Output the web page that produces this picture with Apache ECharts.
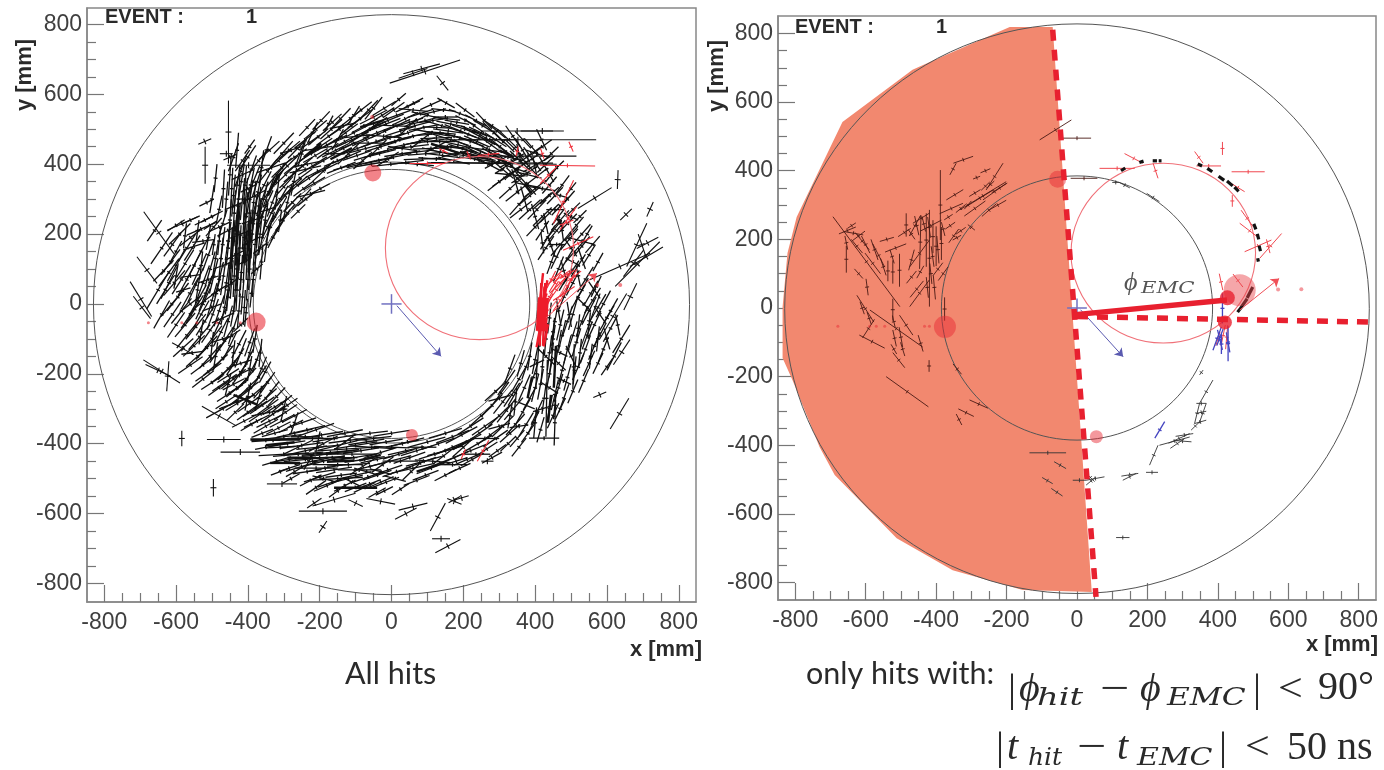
<!DOCTYPE html>
<html><head><meta charset="utf-8">
<style>html,body{margin:0;padding:0;background:#fff}#c{width:1384px;height:770px;filter:blur(0.65px)}</style>
<script src="https://cdn.jsdelivr.net/npm/echarts@6/dist/echarts.min.js"></script>
</head><body><div id="c"></div>
<script>
const majorTicks=[-800,-600,-400,-200,0,200,400,600,800];
const minorTicks=[-750,-700,-650,-550,-500,-450,-350,-300,-250,-150,-100,-50,50,100,150,250,300,350,450,500,550,650,700,750];
// Hits: [centre x, centre y, half dx, half dy] in mm
const hitsTop=[[-240,470,30,24],[-225,430,32,22],[-210,500,30,26],[-200,450,35,24],[-190,410,30,18],[-175,480,34,26],[-165,520,26,24],[-155,440,38,20],[-145,500,32,22],[-130,465,36,20],[-125,420,40,18],[-115,530,34,28],[-105,490,38,20],[-95,445,42,16],[-85,555,30,24],[-75,510,36,20],[-70,470,40,18],[-60,425,45,14],[-50,535,38,20],[-40,490,40,16],[-30,450,44,14],[-20,560,32,20],[-15,515,40,16],[-5,475,42,14],[5,420,50,10],[15,540,38,14],[25,495,42,14],[35,455,46,10],[45,565,34,16],[50,520,38,12],[60,480,44,10],[70,435,48,6],[80,545,36,12],[90,505,42,8],[100,465,46,6],[110,570,30,14],[115,525,40,6],[125,415,50,-4],[135,490,44,-4],[145,555,34,-4],[155,450,44,-6],[165,515,40,-8],[175,480,38,-10],[190,545,30,-12],[200,430,40,-10],[205,500,36,-12],[220,465,38,-14],[235,525,30,-16],[245,410,36,-14],[250,490,34,-16],[265,445,36,-18],[280,510,26,-18],[290,470,30,-20],[305,415,34,-22],[-270,420,34,24],[-220,395,40,26],[-180,455,44,26],[-140,390,40,16],[-110,470,46,22],[-85,400,40,10],[-60,500,44,22],[-35,410,40,8],[-10,525,44,18],[10,465,46,12],[40,405,50,6],[65,510,44,12],[95,430,50,4],[125,475,44,2],[155,530,36,-4],[185,455,44,-10],[230,495,36,-14],[275,425,40,-20]];
const extraTop=[[-300,460,28,30],[-290,395,30,30],[-262,445,26,28],[-248,395,28,24],[-235,505,22,24],[-228,462,30,22],[-212,425,34,20],[-204,478,28,24],[-196,525,24,26],[-186,385,36,18],[-178,438,30,22],[-168,500,30,28],[-158,465,34,18],[-150,410,38,16],[-142,530,28,30],[-134,445,36,18],[-128,490,34,26],[-120,395,42,12],[-112,510,30,24],[-104,460,42,18],[-96,425,40,14],[-88,530,34,26],[-80,485,38,24],[-72,445,44,12],[-64,555,26,28],[-56,400,46,8],[-48,510,36,24],[-42,465,42,16],[-34,430,46,12],[-26,540,34,22],[-18,495,40,20],[-10,440,48,12],[-2,400,52,6],[6,555,30,22],[14,510,38,18],[22,470,42,12],[30,430,50,8],[38,530,36,18],[46,490,40,14],[54,450,50,6],[62,575,26,14],[70,525,34,18],[78,465,44,10],[86,415,52,2],[94,525,38,10],[102,485,44,4],[110,445,50,2],[118,550,34,8],[126,505,40,-2],[134,465,44,0],[142,425,48,-6],[150,535,34,0],[158,495,42,-6],[166,450,44,-4],[174,410,44,-10],[182,520,34,-6],[190,475,40,-10],[198,445,40,-12],[206,525,28,-14],[214,485,36,-14],[222,435,38,-14],[230,510,28,-20],[238,465,36,-16],[246,430,38,-18],[254,510,26,-16],[262,475,32,-20],[270,400,36,-20],[278,455,30,-22],[286,425,34,-22],[294,495,24,-20],[302,450,30,-24],[310,385,30,-26],[318,435,30,-24],[326,470,24,-24],[334,395,32,-28],[342,445,26,-26],[350,360,30,-30],[358,410,28,-28],[366,470,22,-24],[374,345,28,-32],[382,395,26,-30],[390,450,20,-24]];
const hitsUpperLeft=[[-440,420,14,40],[-420,380,16,45],[-400,420,22,34],[-385,350,18,45],[-370,410,26,34],[-360,300,16,48],[-345,380,26,34],[-340,440,28,26],[-330,340,24,38],[-315,410,30,28],[-310,300,22,38],[-295,370,30,30],[-285,440,30,26],[-280,330,30,30],[-265,400,32,26],[-255,360,34,26],[-250,300,26,30],[-430,340,8,55],[-415,300,6,60],[-405,250,5,70],[-395,300,10,55],[-380,260,8,60],[-370,230,6,70],[-360,250,14,50],[-350,280,20,45],[-335,260,18,40],[-450,370,4,60],[-440,310,5,60],[-460,300,4,50],[-425,230,4,60],[-410,190,3,70],[-395,210,4,60],[-380,170,5,60],[-360,190,10,50],[-345,220,16,34],[-408,340,4,55],[-390,385,14,40],[-372,320,10,50],[-428,280,4,50],[-400,180,4,60],[-385,230,6,50],[-355,340,20,40],[-320,370,26,32],[-300,335,26,30],[-415,410,20,30]];
const extraUpperLeft=[[-445,330,3,60],[-438,260,4,65],[-432,200,3,70],[-426,300,4,70],[-422,160,3,65],[-418,350,8,50],[-412,230,3,75],[-406,300,5,60],[-402,140,3,70],[-396,260,4,65],[-392,340,10,50],[-388,200,3,70],[-384,290,6,60],[-378,140,3,60],[-374,350,14,45],[-370,280,6,55],[-366,200,6,60],[-362,120,4,50],[-356,300,12,50],[-352,240,8,50],[-348,170,6,50],[-342,320,16,44],[-338,220,12,44],[-332,290,14,40],[-326,250,18,36],[-322,350,22,36],[-318,210,18,30],[-312,270,20,36],[-306,390,28,28],[-302,240,20,30],[-296,310,24,30],[-290,260,22,26],[-284,360,28,28],[-276,290,24,26],[-270,375,30,26],[-262,340,28,26],[-260,265,20,20],[-245,330,28,22],[-238,300,24,20],[-230,360,32,22],[-215,345,30,18],[-205,380,34,18],[-198,330,26,14],[-450,240,4,60],[-468,330,3,55],[-480,270,8,40],[-500,300,6,40],[-490,360,4,40],[-470,230,12,40],[-495,220,22,26],[-455,180,8,55],[-445,130,4,60],[-438,80,3,60],[-455,40,4,60],[-430,40,3,60],[-418,90,3,50],[-405,170,3,60],[-395,100,3,60],[-385,70,2,50],[-390,30,4,40],[-410,-10,3,50],[-425,-20,4,50]];
const hitsLeft=[[-440,180,4,60],[-425,140,3,70],[-410,120,3,60],[-400,70,4,60],[-450,110,5,60],[-470,170,6,50],[-490,130,8,50],[-510,190,6,35],[-530,150,20,40],[-460,60,8,60],[-435,40,5,70],[-415,20,4,50],[-480,70,12,50],[-505,100,14,50],[-525,60,18,50],[-550,110,22,45],[-570,160,24,40],[-590,200,30,30],[-570,70,24,45],[-600,110,24,45],[-540,10,24,44],[-500,10,14,50],[-465,-10,10,50],[-440,-20,8,45],[-405,-25,4,40],[-410,160,5,45],[-530,215,40,18],[-480,220,30,14],[-640,160,30,45],[-650,40,32,55],[-620,60,22,45],[-660,210,20,30],[-620,90,28,40],[-595,20,30,40],[-560,-30,26,40],[-520,-50,24,40],[-480,-55,18,40],[-440,-70,14,45],[-430,100,3,60],[-445,70,4,55],[-420,70,4,50],[-455,160,5,50],[-435,210,4,45]];
const extraLeft=[[-475,130,6,60],[-468,80,8,55],[-495,80,12,50],[-488,30,12,50],[-510,140,16,45],[-518,30,18,50],[-535,100,20,45],[-545,55,22,50],[-555,160,22,36],[-562,30,24,45],[-575,115,24,40],[-585,70,26,42],[-610,170,24,34],[-615,120,26,36],[-635,95,28,30],[-605,60,30,36],[-585,-20,28,36],[-612,0,30,36],[-630,40,24,40],[-548,-15,24,40],[-525,0,20,44],[-480,-20,14,44],[-455,20,8,50],[-498,-30,16,44],[-530,-30,22,40],[-505,60,16,44],[-560,190,30,24],[-600,225,24,16],[-520,240,28,14],[-560,240,26,12],[-505,225,18,12],[-455,-50,12,45],[-475,-80,20,40],[-505,-75,24,36],[-545,-65,28,36],[-575,-60,28,34],[-640,-30,22,40],[-610,-30,24,36],[-450,-120,20,42],[-480,-130,26,38],[-515,-125,30,34],[-550,-120,30,30],[-580,-125,28,26],[-420,-140,16,42],[-395,-140,12,40],[-380,-100,6,40],[-560,-175,34,24],[-525,-175,34,26],[-490,-175,34,30],[-455,-185,28,32],[-420,-195,22,34],[-390,-190,18,36],[-362,-185,14,34],[-352,-195,16,30]];
const hitsLowerLeft=[[-600,-60,24,36],[-570,-90,28,36],[-535,-95,30,36],[-500,-100,28,38],[-465,-105,26,40],[-425,-115,20,40],[-395,-110,14,40],[-540,-150,32,30],[-505,-150,30,34],[-470,-155,30,36],[-435,-165,24,38],[-405,-170,20,40],[-375,-160,12,36],[-510,-195,36,26],[-470,-200,34,28],[-440,-215,34,28],[-405,-215,28,32],[-370,-210,22,34],[-345,-225,20,30],[-480,-240,30,22],[-450,-255,36,24],[-420,-265,32,26],[-385,-260,32,28],[-350,-270,30,28],[-320,-265,24,26],[-435,-310,24,24],[-400,-310,30,22],[-365,-315,32,22],[-330,-315,34,24],[-295,-310,32,22],[-470,-300,46,26],[-420,-200,24,12],[-440,-230,30,16],[-390,-345,30,18],[-350,-350,34,20],[-315,-355,34,18],[-280,-350,34,18],[-455,-205,30,20],[-430,-240,26,18],[-400,-245,30,22],[-380,-300,34,22],[-345,-295,30,22]];
const extraBottomLeft=[[-500,-225,30,20],[-465,-225,34,24],[-430,-240,30,26],[-395,-235,28,28],[-360,-240,24,30],[-335,-250,22,28],[-305,-285,28,24],[-460,-280,30,20],[-430,-285,32,20],[-395,-285,34,24],[-360,-290,34,24],[-325,-295,34,22],[-290,-290,28,20],[-270,-320,34,18],[-250,-340,40,14],[-410,-335,34,18],[-375,-335,36,18],[-340,-335,36,18],[-305,-335,34,18],[-270,-370,50,12],[-235,-360,50,12],[-195,-375,60,10],[-160,-385,60,10],[-360,-370,30,12],[-325,-370,36,10],[-290,-400,50,8],[-250,-405,60,8],[-205,-410,60,6],[-150,-425,60,8],[-115,-390,60,8],[-85,-420,50,8],[-50,-385,50,6],[-15,-395,46,8],[-350,-410,30,6],[-310,-410,40,2],[-285,-445,40,6],[-240,-445,60,6],[-200,-440,70,4],[-160,-445,60,6],[-120,-460,60,4],[-75,-445,56,8],[-40,-445,46,10],[-10,-475,40,14],[-235,-480,40,6],[-185,-470,50,10],[-140,-490,44,6],[-100,-490,44,10],[-65,-495,40,14],[-30,-510,36,16],[-165,-510,40,14],[-100,-525,30,12],[-60,-515,30,12],[-210,-525,28,20],[-150,-535,24,18],[-20,-535,24,12],[-280,-500,24,14],[-310,-480,26,10],[-225,-505,30,16]];
const hitsBottom=[[-330,-390,60,4],[-300,-430,70,4],[-260,-385,70,2],[-240,-420,60,14],[-210,-360,50,18],[-190,-450,60,16],[-150,-405,55,14],[-130,-370,50,10],[-105,-440,60,10],[-250,-465,44,14],[-200,-495,44,14],[-160,-475,50,8],[-120,-500,40,10],[-70,-395,50,8],[-60,-465,46,12],[-30,-425,44,14],[-15,-510,36,14],[-75,-525,30,14],[15,-480,40,14],[30,-400,46,10],[50,-440,44,16],[70,-505,36,14],[100,-395,50,14],[110,-470,40,16],[120,-430,44,14],[150,-370,46,14],[-320,-450,40,12],[-285,-470,30,10],[-125,-415,90,6],[-180,-430,70,6],[-220,-385,70,0],[-130,-520,30,16],[-40,-540,24,14],[-180,-520,36,16],[25,-530,24,16],[-60,-370,50,6],[0,-370,50,8],[-5,-450,60,16],[60,-470,60,14],[180,-450,32,10],[-170,-425,80,8],[-150,-500,70,4],[-90,-475,60,0],[-260,-430,70,6],[-220,-450,50,10],[-100,-405,60,10],[-40,-490,40,14],[40,-420,50,12],[90,-450,50,14]];
const extraBottomRight=[[20,-430,44,14],[45,-395,46,12],[70,-420,44,14],[80,-455,44,16],[95,-490,36,14],[130,-400,46,16],[135,-455,40,16],[150,-490,30,16],[170,-380,46,18],[175,-440,40,18],[190,-470,30,14],[210,-395,40,22],[225,-445,32,18],[245,-370,36,26],[265,-415,30,20],[275,-375,34,26],[295,-420,24,18],[310,-350,30,30],[325,-400,22,22],[320,-305,26,34],[345,-345,26,30],[350,-385,20,24],[365,-310,20,36],[380,-370,18,26],[395,-340,16,34],[415,-360,10,36],[440,-300,8,40],[455,-260,10,44],[480,-270,14,40],[415,-230,8,44],[395,-210,12,40],[370,-240,16,38],[345,-255,20,36],[330,-185,14,40],[360,-170,10,38],[385,-150,6,40],[420,-180,4,50],[445,-160,6,50],[475,-190,10,40],[505,-250,14,34],[535,-220,14,34],[550,-170,16,36],[575,-170,14,30],[600,-180,16,24],[410,-120,3,45],[430,-100,4,46],[450,-100,6,40],[475,-90,10,44],[505,-90,12,40],[545,-90,14,40],[580,-90,18,36],[600,-40,20,36],[280,-290,28,30],[250,-320,30,28],[220,-350,36,24],[305,-255,22,32],[335,-260,22,34]];
const hitsLowerRight=[[170,-410,46,20],[195,-375,44,24],[210,-445,36,16],[240,-400,40,24],[260,-350,36,26],[280,-440,28,16],[290,-385,34,24],[300,-320,30,30],[330,-370,28,26],[340,-300,26,32],[355,-410,20,26],[375,-345,20,34],[385,-270,18,34],[405,-310,16,36],[400,-240,10,40],[425,-270,6,45],[432,-270,2,110],[404,-200,2,40],[450,-320,16,36],[465,-240,12,40],[470,-300,14,30],[440,-200,8,42],[507,-180,2,65],[490,-210,10,38],[520,-180,16,38],[455,-340,2,65],[425,-384,42,0],[290,-250,30,28],[320,-225,24,36],[355,-215,20,36],[375,-180,12,36],[150,-420,50,14],[220,-420,44,18],[310,-280,26,34],[400,-160,8,40]];
const hitsRight=[[440,-140,6,50],[465,-120,8,46],[490,-130,10,40],[515,-110,12,40],[540,-130,14,40],[565,-120,16,40],[590,-130,14,36],[610,-70,20,38],[640,-100,24,40],[620,-150,20,40],[565,-60,18,40],[530,-50,16,44],[490,-50,14,44],[455,-50,8,46],[590,0,20,38],[560,10,22,36],[520,20,20,36],[480,20,14,36],[540,70,22,36],[500,90,22,34],[465,100,14,36],[570,50,14,30],[510,150,26,30],[470,170,26,32],[550,140,18,30],[530,200,24,28],[490,230,26,28],[450,210,24,30],[420,250,26,26],[470,280,24,26],[505,270,20,20],[385,270,30,28],[440,310,26,24],[400,330,30,24],[350,320,32,26],[315,360,34,24],[370,370,36,24],[335,410,34,20],[405,400,38,22],[445,370,20,26],[475,340,20,28],[300,410,40,22],[390,430,30,22],[420,450,26,20],[430,160,22,34],[400,220,24,26],[360,270,30,24]];
const extraRight=[[430,-70,3,40],[440,-40,5,44],[470,-60,10,44],[505,-30,12,44],[550,-20,20,40],[575,-10,22,38],[610,-20,20,36],[530,40,18,34],[555,30,20,36],[505,60,18,36],[485,70,18,32],[520,110,20,32],[490,130,20,34],[460,135,16,34],[445,120,12,34],[530,165,22,28],[495,185,24,30],[460,210,24,30],[435,190,20,34],[420,210,18,28],[470,240,24,28],[440,260,26,26],[405,270,26,28],[515,225,20,24],[490,300,20,24],[455,310,22,24],[420,295,26,24],[385,310,30,26],[355,285,26,30],[330,330,30,28],[300,350,32,26],[405,365,30,24],[375,405,34,22],[350,385,32,26],[320,395,32,22],[430,400,24,24],[440,340,20,24],[460,390,20,20],[445,430,20,20],[500,330,14,18],[465,250,18,24],[500,200,18,20],[525,250,18,18],[545,200,14,24],[560,170,20,24],[575,120,14,26]];
const crossTop=[[-280,440,30,10],[-250,430,10,36],[-235,400,36,8],[-220,490,14,30],[-205,445,40,6],[-190,380,30,30],[-175,515,12,24],[-160,430,30,0],[-150,470,16,30],[-135,510,36,8],[-120,430,30,30],[-105,540,16,26],[-95,480,36,4],[-80,410,26,24],[-65,460,48,0],[-50,560,24,32],[-38,445,24,24],[-22,480,50,-4],[-10,415,30,20],[5,510,44,-2],[20,585,20,18],[30,445,40,-6],[45,505,26,26],[60,555,40,-4],[72,400,46,-4],[85,470,30,24],[100,540,44,-10],[112,490,50,-10],[125,450,30,16],[140,510,46,-14],[152,575,24,-14],[165,470,50,-16],[178,430,36,8],[192,495,44,-18],[205,555,26,-20],[218,450,44,-20],[232,415,44,-6],[245,480,44,-24],[258,525,22,-24],[272,440,44,-6],[285,490,30,-30],[298,405,36,-6],[312,465,30,-30],[325,420,40,-10],[338,480,20,-30],[352,385,36,-12],[365,440,20,-34],[378,370,40,-10],[392,415,24,-34],[405,430,30,-10],[418,470,14,-30],[432,385,20,-36]];
const crossUpperLeft=[[-450,420,18,8],[-430,440,4,50],[-415,370,30,14],[-395,450,14,20],[-380,310,30,16],[-362,390,6,50],[-348,440,14,40],[-335,390,40,14],[-318,320,6,50],[-305,430,30,36],[-290,290,12,50],[-272,350,8,40],[-255,430,14,40],[-240,385,44,10],[-225,315,40,10],[-440,280,24,10],[-420,200,30,12],[-400,330,20,10],[-385,240,26,8],[-365,160,20,16],[-345,270,24,8],[-330,190,14,30],[-310,240,4,30],[-455,210,30,16],[-435,140,26,14],[-412,120,20,10],[-390,180,24,12],[-375,100,16,14],[-480,180,4,40],[-500,250,30,16],[-515,290,20,10],[-540,210,4,30],[-525,180,30,4],[-470,110,26,10],[-445,60,20,16]];
const crossLeft=[[-600,150,16,30],[-575,195,4,36],[-550,165,30,10],[-530,110,4,40],[-510,70,28,10],[-495,170,4,30],[-480,40,22,14],[-560,80,28,4],[-540,40,6,40],[-520,10,26,20],[-600,80,6,36],[-580,40,20,6],[-560,0,30,24],[-500,-10,26,10],[-470,-40,30,14],[-445,-90,24,16],[-420,-60,20,20],[-530,-80,6,36],[-500,-120,4,40],[-470,-100,30,10],[-440,-140,4,36],[-555,-140,30,4],[-525,-215,30,24],[-490,-150,6,40],[-455,-230,8,32],[-420,-170,30,10],[-395,-185,6,36],[-365,-140,4,40],[-430,-280,50,20],[-400,-265,8,40],[-370,-270,10,36],[-340,-310,50,10],[-300,-300,8,36],[-270,-340,10,30],[-240,-380,40,0],[-205,-395,6,30]];
const crossBottom=[[-350,-390,40,0],[-300,-380,50,6],[-260,-410,40,20],[-225,-440,50,0],[-190,-400,40,22],[-165,-440,70,0],[-130,-395,30,22],[-110,-430,70,0],[-80,-465,36,24],[-55,-410,60,-4],[-25,-460,30,22],[0,-410,50,-2],[25,-450,50,0],[55,-480,24,24],[85,-410,40,0],[115,-450,50,-4],[145,-435,30,24],[170,-460,40,0],[200,-410,30,28],[235,-430,40,0],[260,-385,40,0],[-270,-480,24,14],[-230,-450,14,24],[-190,-500,30,-8],[-150,-460,70,0],[-110,-510,24,-12],[-70,-480,34,-10],[-30,-480,30,-8],[10,-500,30,-8],[-210,-470,60,0]];
const crossRight=[[300,-350,30,8],[330,-320,6,36],[355,-350,26,4],[300,-270,30,8],[345,-280,4,40],[375,-290,24,-10],[400,-340,4,44],[420,-300,26,8],[455,-290,4,40],[480,-220,20,-10],[440,-240,24,-16],[405,-170,20,10],[430,-150,24,-24],[465,-170,20,-20],[500,-150,14,-30],[525,-140,4,40],[555,-150,4,36],[575,-100,4,36],[600,-100,8,-30],[630,-60,6,-30],[550,-60,4,36],[520,-70,4,40],[495,-30,6,-36],[465,-20,6,-36],[450,-80,4,40],[470,-140,20,-10],[510,-190,4,40],[535,0,20,-20],[565,40,16,-24],[580,-30,16,-24],[520,80,6,-30],[505,120,20,-10],[480,95,8,-30],[530,130,10,-30],[460,170,24,0],[500,160,16,-24],[530,180,36,-10],[475,210,4,-30],[445,165,10,-30],[420,175,4,-30],[500,250,20,-10],[455,270,24,0],[430,230,6,-30],[400,250,10,-36],[370,300,10,-36],[420,330,36,-6],[470,310,20,-6],[345,350,10,-36],[380,340,30,-6],[330,370,40,-4],[400,390,6,-30],[355,430,6,-28]];
const hitsDark=[[-323,-388,70,0],[-296,-455,42,0],[-142,-450,38,2],[-100,-526,60,0],[-407,-274,33,-14],[-430,200,4,90],[-395,170,3,80],[-445,160,3,60],[-370,240,6,50],[-54,516,33,10],[-310,-400,40,4],[-250,-440,40,0],[-60,-440,30,8],[100,-470,30,10],[200,-400,30,16],[320,430,20,-10],[150,445,40,-14],[230,425,40,-10],[-140,430,30,16],[-220,440,24,20],[-330,340,14,30],[380,330,10,-14],[470,230,8,-14],[440,-300,4,40],[455,-180,3,60],[385,-240,6,30]];
const hitsOuter=[[93,665,98,33],[84,673,51,14],[142,632,16,-21],[60,660,40,14],[-454,492,0,90],[-519,397,0,53],[-520,465,18,8],[-460,430,18,0],[-398,397,60,0],[-648,204,42,-60],[-583,230,42,19],[-698,14,30,-50],[-681,97,28,-38],[-695,-10,24,-32],[-640,-193,51,-33],[-650,-190,35,-17],[-623,-207,3,43],[-584,-385,0,22],[-496,-526,0,25],[-467,-388,47,0],[-421,-424,55,0],[-581,-128,30,-17],[-480,-321,48,-28],[-305,-515,42,0],[-191,-593,67,0],[-191,-638,11,17],[-160,-560,60,18],[-215,-570,20,14],[-100,-570,20,-10],[-30,-565,40,-8],[129,-610,21,40],[138,-672,25,0],[157,-693,35,19],[175,-560,16,9],[60,-580,40,10],[40,-600,30,16],[635,-314,26,44],[641,-138,23,36],[580,-260,18,8],[267,-450,17,0],[195,-555,20,6],[175,-565,20,-8],[630,356,1,27],[566,303,47,30],[720,271,9,21],[653,256,16,16],[685,114,62,64],[683,169,28,62],[636,107,84,38],[710,135,46,28],[674,116,28,38],[713,175,30,16],[697,170,10,-30],[665,21,18,38],[617,-36,38,66],[553,-50,28,80],[352,470,218,0],[350,495,100,0],[420,495,60,0],[380,423,135,0],[265,470,80,0],[280,402,180,-2],[280,404,170,-1],[200,425,90,-14],[135,435,50,-12]];
const hitsRedLeft=[[100,402,50,0],[145,438,12,-6],[215,425,5,-12],[270,428,30,3],[350,437,3,14],[420,430,5,-15],[500,450,6,-14],[490,396,77,-1],[437,368,23,24],[479,292,28,62],[492,245,23,33],[488,233,19,7],[520,173,42,19],[470,60,30,30],[460,40,25,35],[490,50,20,30],[440,20,25,45],[500,70,16,30],[480,30,30,20],[455,75,20,20],[430,-10,20,40],[470,10,20,30],[255,-420,16,30],[200,-430,6,14],[455,60,16,26],[475,80,22,16],[490,85,20,12],[510,80,18,14],[445,70,12,24]];
const redCoreLeft=[[415,-30,2,90],[425,-30,3,90],[420,-20,6,70],[410,-90,6,34],[430,-90,6,32],[418,50,4,38],[428,30,6,38],[420,-50,10,30],[422,0,10,30]];
const redBlobLeft=[[420,-30,3,48]];
const hitsWedge=[[-598,135,95,-131],[-513,-60,75,-54],[-388,300,0,102],[-419,145,0,141],[-485,242,0,34],[-445,192,2,78],[-428,198,0,78],[-409,208,0,48],[-385,188,0,48],[-400,180,0,58],[-537,108,0,30],[-523,105,0,34],[-504,110,0,48],[-655,142,0,39],[-652,226,24,10],[-635,218,28,-5],[-563,153,17,-34],[-596,61,3,-24],[-601,-2,24,-39],[-592,-60,17,27],[-582,-98,36,-19],[-523,-5,0,32],[-485,-50,19,-29],[-518,-88,5,-24],[-500,-85,-5,29],[-506,-152,17,-22],[-444,-103,7,-24],[-420,-169,0,17],[-376,-3,0,34],[-447,159,28,39],[-447,43,28,39],[-455,55,19,24],[-395,113,14,19],[-442,262,24,15],[-357,290,33,15],[-323,432,28,10],[-352,405,9,17],[-267,327,66,41],[-276,320,38,24],[-234,383,24,39],[-234,339,33,24],[-347,330,24,15],[-341,205,12,7],[-61,519,45,29],[0,495,40,0],[20,378,38,0],[-482,-244,60,-44],[-279,-280,26,-12],[-315,-305,22,-11],[-335,-325,8,-16],[-340,-178,12,-15],[-610,195,20,-25],[-625,180,16,-20],[-580,130,22,-30],[-540,200,20,6],[-515,175,30,12],[-470,140,8,30],[-460,240,16,30],[-415,240,30,16],[-380,100,14,20],[-350,210,14,20],[-290,290,30,22],[-250,285,20,18],[-225,300,24,14],[-620,210,18,14],[-600,185,12,-25],[-575,170,10,-30],[-550,120,8,-25],[-525,150,6,-20],[-490,220,18,12],[-470,215,10,-15],[-455,240,6,-28],[-435,245,5,-22],[-420,235,4,-30],[-410,150,4,-30],[-395,170,3,-40],[-380,230,5,-20],[-365,265,12,8],[-330,290,14,12],[-310,300,10,12],[-290,335,16,10],[-260,355,12,12],[-245,360,10,10],[-220,350,22,14],[-415,100,3,-30],[-405,60,3,-35],[-425,60,3,-30],[-470,90,14,18],[-445,105,10,18],[-520,-40,4,-18],[-520,-120,8,-14],[-495,-120,6,-20],[-610,0,6,-18],[-590,-30,6,-18],[-620,100,12,-14],[-655,190,4,-20],[-640,240,12,8],[-330,225,14,10],[-360,240,14,10],[-300,235,10,-8],[-260,400,14,6],[-285,380,10,4]];
const hitsRightLow=[[-83,-422,52,0],[-48,-458,17,-10],[-84,-503,15,-9],[-57,-537,16,-11],[7,-502,19,0],[52,-497,26,5],[40,-504,14,12],[38,-494,12,-12],[150,-486,24,4],[149,-492,19,10],[213,-479,17,0],[130,-669,19,0],[218,-429,12,29],[277,-388,43,12],[290,-380,30,14],[300,-388,25,-2],[285,-395,20,14],[305,-370,25,4],[336,-344,12,12],[350,-332,17,5],[353,-304,14,3],[341,-307,7,29],[357,-307,10,29],[353,-278,14,0],[367,-244,19,34],[353,-188,5,7],[135,358,15,-8],[216,322,18,-12],[110,366,10,0]];
const ringBlack=[[131,404,6,4],[183,426,6,2],[221,429,6,0],[236,429,4,0],[349,417,6,-3],[377,402,7,-5],[410,378,8,-6],[434,363,8,-7],[453,346,6,-6],[505,237,3,-8],[514,208,2,-8],[519,174,2,-8],[514,140,1,-5],[491,45,-8,-16],[475,15,-8,-12],[462,-4,-6,-8]];
const ringRed=[[114,407,50,0],[161,436,26,-14],[223,400,7,-22],[346,439,12,-17],[374,414,35,0],[413,465,0,19],[486,397,47,0],[457,351,19,-12],[441,312,0,17],[490,225,28,-22],[483,261,17,-24],[514,181,38,17],[550,181,31,36],[543,180,5,-20],[409,76,5,-24],[457,80,14,-19],[415,-80,6,30],[425,-85,3,35],[400,-90,6,20]];
const hitsBlue=[[413,-1,0,44],[429,-104,0,51],[398,-89,12,34],[406,-93,7,-29],[410,-105,0,29],[406,-85,9,24],[429,-100,5,-29],[235,-355,14,24]];
const wedgeBoundary=[[-69,819],[-191,819],[-418,717],[-467,694],[-666,542],[-796,265],[-822,160],[-836,3],[-836,-146],[-808,-210],[-731,-405],[-688,-487],[-512,-671],[-353,-764],[-154,-822],[42,-828]];
const circlesLeft=[[0,-2,830],[0,0,385],[4,4,402]];
const circlesRight=[[0,-2,830],[0,0,385]];
const trackCircle=[[245,160,262]];
const crossBlue=[[0,0,28,0],[0,0,0,28]];
const dotsLeft=[[-377,-52,19],[-52,375,17],[57,-375,12],[-54,535,4],[-677,-54,3],[-584,-54,3],[-542,-54,3],[-486,-54,3],[-421,-54,3],[573,54,4],[637,54,4]];
const dotsRight=[[-375,-55,22],[-55,375,17],[55,-375,13],[-679,-53,3],[-589,-53,3],[-570,-53,3],[-546,-53,3],[-433,-53,3],[-419,-53,3],[571,54,4],[637,55,4]];
const bigDotRight=[[462,52,32]];
const coreDotsRight=[[427,30,15],[420,-42,14]];
const dashA=[[-69,811],[54,-842]];
const dashB=[[0,-25],[832,-41]];
const phiLine=[[-12,-20],[426,23]];
const arrowBlueLeft=[[15,-5],[138,-150]];
const arrowRedLeft=[[430,-40],[572,88]];
const arrowBlueRight=[[10,-5],[131,-142]];
const arrowRedRight=[[462,-6],[574,86]];

const RED='#e8202f',TXT='#3f3f3f';
function hitSeries(ax,data,color,width,z,tick){return {type:'custom',coordinateSystem:'cartesian2d',xAxisIndex:ax,yAxisIndex:ax,z:z,silent:true,animation:false,clip:true,
  encode:{x:0,y:1},data:data,renderItem:function(p,api){
    const c=[api.value(0),api.value(1)],d=[api.value(2),api.value(3)];
    const a=api.coord([c[0]-d[0],c[1]-d[1]]),b=api.coord([c[0]+d[0],c[1]+d[1]]),m=api.coord(c);
    const ch=[{type:'line',shape:{x1:a[0],y1:a[1],x2:b[0],y2:b[1]},style:{stroke:color,lineWidth:width}}];
    if(tick){const vx=b[0]-a[0],vy=b[1]-a[1],l=Math.hypot(vx,vy)||1,nx=-vy/l*tick,ny=vx/l*tick;
      ch.push({type:'line',shape:{x1:m[0]-nx,y1:m[1]-ny,x2:m[0]+nx,y2:m[1]+ny},style:{stroke:color,lineWidth:width}});}
    return {type:'group',children:ch};}};}
function circleSeries(ax,data,color,width,z){return {type:'custom',coordinateSystem:'cartesian2d',xAxisIndex:ax,yAxisIndex:ax,z:z,silent:true,animation:false,clip:true,
  encode:{x:0,y:1},data:data,renderItem:function(p,api){
    const c=api.coord([api.value(0),api.value(1)]),r=api.value(2),s=api.size([r,r]);
    return {type:'ellipse',shape:{cx:c[0],cy:c[1],rx:s[0],ry:s[1]},style:{fill:'none',stroke:color,lineWidth:width}};}};}
function polySeries(ax,data,color,z){return {type:'custom',coordinateSystem:'cartesian2d',xAxisIndex:ax,yAxisIndex:ax,z:z,silent:true,animation:false,clip:true,
  encode:{x:0,y:1},data:data,renderItem:function(p,api){
    if(p.dataIndex!==0)return null;
    return {type:'polygon',shape:{points:data.map(q=>api.coord(q))},style:{fill:color}};}};}
function dots(ax,data,color,z){return {type:'scatter',xAxisIndex:ax,yAxisIndex:ax,z:z,silent:true,animation:false,data:data,symbol:'circle',
  symbolSize:v=>v[2],itemStyle:{color:color}};}
function seg(ax,data,color,width,z,dash){return {type:'custom',coordinateSystem:'cartesian2d',xAxisIndex:ax,yAxisIndex:ax,z:z,silent:true,animation:false,clip:false,
  encode:{x:0,y:1},data:data,renderItem:function(p,api){
    if(p.dataIndex!==0)return null;
    const a=api.coord(data[0]),b=api.coord(data[1]);
    return {type:'line',shape:{x1:a[0],y1:a[1],x2:b[0],y2:b[1]},style:{stroke:color,lineWidth:width,lineDash:dash||null,lineCap:'butt'}};}};}
function arrow(ax,data,color,z){return {type:'lines',coordinateSystem:'cartesian2d',xAxisIndex:ax,yAxisIndex:ax,z:z,silent:true,animation:false,
  symbol:['none','arrow'],symbolSize:8,lineStyle:{color:color,width:1,opacity:1},data:[{coords:data}]};}
function xPair(g){const lim=g?849:848;return [
 {type:'value',gridIndex:g,min:-lim,max:lim,position:'bottom',splitLine:{show:false},axisLine:{onZero:false,lineStyle:{color:'#888',width:1.5}},
  axisTick:{inside:true,length:17,customValues:majorTicks,lineStyle:{color:'#777',width:1.2}},
  axisLabel:{customValues:majorTicks,color:TXT,fontFamily:'Liberation Sans',fontSize:23,margin:9}},
 {type:'value',gridIndex:g,min:-lim,max:lim,position:'bottom',splitLine:{show:false},axisLine:{show:false,onZero:false},
  axisTick:{inside:true,length:9,customValues:minorTicks,lineStyle:{color:'#777',width:1.2}},axisLabel:{show:false}}];}
function yPair(g){const a=g?-851:-853,b=g?851:847;return [
 {type:'value',gridIndex:g,min:a,max:b,position:'left',splitLine:{show:false},axisLine:{onZero:false,lineStyle:{color:'#888',width:1.5}},
  axisTick:{inside:true,length:17,customValues:majorTicks,lineStyle:{color:'#777',width:1.2}},
  axisLabel:{customValues:majorTicks,color:TXT,fontFamily:'Liberation Sans',fontSize:23,margin:5}},
 {type:'value',gridIndex:g,min:a,max:b,position:'left',splitLine:{show:false},axisLine:{show:false,onZero:false},
  axisTick:{inside:true,length:9,customValues:minorTicks,lineStyle:{color:'#777',width:1.2}},axisLabel:{show:false}}];}
function txt(t,x,y,font,o){o=o||{};return {type:'text',x:x,y:y,rotation:o.rot||0,scaleX:o.sx||1,silent:true,z:50,
  style:{text:t,font:font,fill:o.fill||'#2a2a2a',align:o.align||'left',verticalAlign:'middle'}};}
const SANSB='bold 20px "Liberation Sans"',AXB='bold 22px "Liberation Sans"';
const M='40px "Liberation Serif"',MI='italic 40px "Liberation Serif"',SI='italic 25px "DejaVu Serif"';
const LA='30.5px Lato';
const texts=[
 txt('EVENT :',105,17,SANSB),txt('1',246,17,SANSB),txt('EVENT :',795,27,SANSB),txt('1',936,27,SANSB),
 txt('y [mm]',25,75,AXB,{rot:Math.PI/2,align:'center'}),txt('y [mm]',717,76,AXB,{rot:Math.PI/2,align:'center'}),
 txt('x [mm]',702,650,AXB,{align:'right'}),txt('x [mm]',1378,645,AXB,{align:'right'}),
 txt('All hits',345,674,LA),txt('only hits with:',806,674,LA),
 txt('\u03d5',1124,283,'italic 26px "Liberation Serif"',{fill:'#555'}),txt('EMC',1141,289,'italic 17px "DejaVu Serif"',{fill:'#555',sx:1.25}),
 txt('|',1008,690,M),txt('\u03d5',1019,690,MI),txt('hit',1037,698,SI,{sx:1.35}),txt('\u2212',1100,690,M,{sx:1.3}),txt('\u03d5',1140,690,MI),txt('EMC',1167,698,SI,{sx:1.25}),txt('|',1253,690,M),txt('<',1278,690,M,{sx:1.1}),txt('90\u00b0',1318,688,M),
 txt('|',996,748,M),txt('t',1007,748,MI),txt('hit',1028,758,SI,{sx:1.0}),txt('\u2212',1077,748,M,{sx:1.3}),txt('t',1117,748,MI),txt('EMC',1137,758,SI,{sx:1.2}),txt('|',1219,748,M),txt('<',1245,748,M,{sx:1.1}),txt('50 ns',1287,748,M)
];
const allLeft=[].concat(hitsTop,extraTop,crossTop,hitsUpperLeft,extraUpperLeft,crossUpperLeft,hitsLeft,extraLeft,crossLeft,hitsLowerLeft,extraBottomLeft,hitsBottom,crossBottom,extraBottomRight,hitsLowerRight,hitsRight,extraRight,crossRight);
const option={backgroundColor:'#fff',animation:false,
 grid:[{left:87,top:8,width:609,height:594,show:true,borderColor:'#888',borderWidth:1.5,backgroundColor:'#fff'},
       {left:778,top:16,width:598,height:584,show:true,borderColor:'#888',borderWidth:1.5,backgroundColor:'#fff'}],
 xAxis:[].concat(xPair(0),xPair(1)),
 yAxis:[].concat(yPair(0),yPair(1)),
 graphic:{elements:texts},
 series:[
 circleSeries(0,circlesLeft,'#555',1,3),
 hitSeries(0,allLeft,'#111',1.3,5,2),
 hitSeries(0,hitsDark,'#111',2.4,5,0),
 hitSeries(0,hitsOuter,'#111',1.1,5,3),
 circleSeries(0,trackCircle,'#f07078',1.1,6),
 hitSeries(0,hitsRedLeft,'#f0303a',1.1,7,2),
 hitSeries(0,redCoreLeft,'#ee1c2a',2.4,7,0),
 hitSeries(0,redBlobLeft,'#ee1c2a',11,7,0),
 dots(0,dotsLeft,'rgba(232,40,50,0.72)',8),
 arrow(0,arrowRedLeft,'#f05058',8),
 arrow(0,arrowBlueLeft,'#5a5ab0',8),
 hitSeries(0,crossBlue,'#7070c0',1.5,8,0),
 polySeries(2,wedgeBoundary,'#f2886f',2),
 circleSeries(2,circlesRight,'#555',1,3),
 hitSeries(2,hitsWedge,'#4a1a14',0.9,5,2),
 hitSeries(2,hitsRightLow,'#333',0.9,5,2),
 circleSeries(2,trackCircle,'#f07078',1.1,6),
 hitSeries(2,ringRed,'#f04850',1,6,2),
 hitSeries(2,ringBlack,'#111',3.2,7,0),
 hitSeries(2,hitsBlue,'#4444c0',1.3,7,2),
 hitSeries(2,crossBlue,'#7070c0',1.5,7,0),
 arrow(2,arrowBlueRight,'#5a5ab0',7),
 arrow(2,arrowRedRight,'#f05058',7),
 dots(2,dotsRight,'rgba(232,40,50,0.6)',8),
 dots(2,bigDotRight,'rgba(235,70,75,0.6)',8),
 dots(2,coreDotsRight,'#e8202f',8),
 seg(2,dashA,RED,5.5,9,[11,9]),
 seg(2,dashB,RED,5.5,9,[11,9]),
 seg(2,phiLine,RED,5.5,9)
 ]};
const chart=echarts.init(document.getElementById('c'),null,{renderer:'canvas'});
chart.setOption(option);
</script></body></html>
